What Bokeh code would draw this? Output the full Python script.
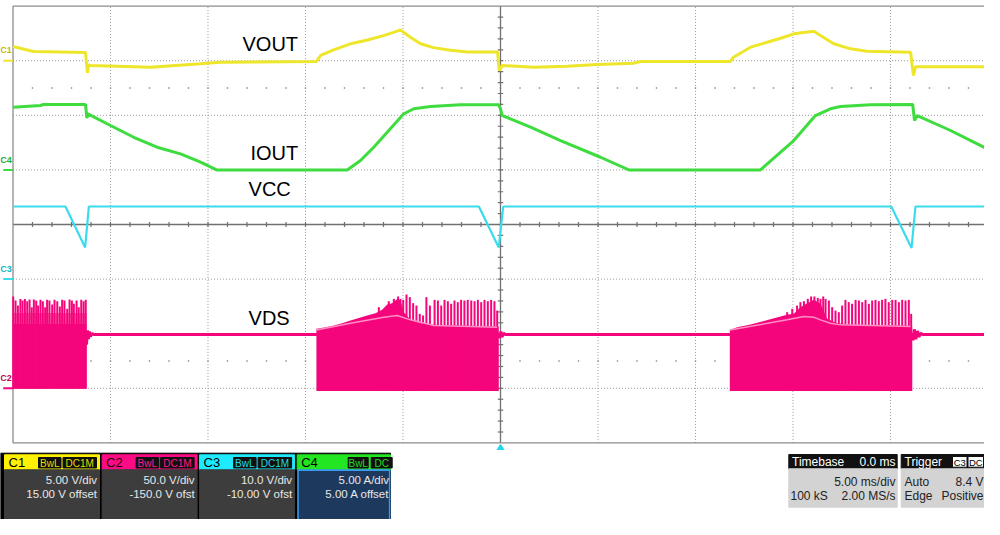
import numpy as np
from bokeh.plotting import figure
from bokeh.layouts import column
from bokeh.models import Range1d
from bokeh.core.properties import value
from bokeh.embed import file_html
from bokeh.resources import INLINE

FONT = value("Liberation Sans")

# ---------------- scope settings ----------------
ch_ids = ["C1", "C2", "C3", "C4"]
ch_names = ["VOUT", "VDS", "VCC", "IOUT"]
ch_scale = [5.0, 50.0, 10.0, 5.0]          # units / div
ch_offset = [15.0, -150.0, -10.0, 5.0]     # offset
ch_line1 = ["5.00 V/div", "50.0 V/div", "10.0 V/div", "5.00 A/div"]
ch_line2 = ["15.00 V offset", "-150.0 V ofst", "-10.00 V ofst", "5.00 A offset"]
ch_badge2 = ["DC1M", "DC1M", "DC1M", "DC"]
timebase_ms_div = 5.0
trigger_level = 8.4   # V on C3
trigger_time = 0.0

# ---------------- VOUT (C1), V ----------------
vout_t = [-25.0, -23.95, -22.56, -21.28, -21.23, -21.18, -21.13, -21.03, -17.95, -15.38,
          -14.36, -9.44, -9.23, -8.56, -7.69, -6.82, -6.0, -5.49, -5.13, -4.97,
          -4.62, -4.10, -3.44, -2.56, -1.69, -0.15, -0.10, -0.05, 0.09, 1.69,
          3.42, 4.96, 6.82, 7.18, 11.79, 11.95, 12.82, 13.68, 14.53, 15.04,
          16.07, 16.41, 17.09, 17.95, 18.80, 21.03, 21.13, 21.18, 21.28, 21.54,
          24.87, 25.0]
vout_v = [1.30, 0.85, 0.80, 0.75, -0.25, -1.10, -0.35, -0.44, -0.60, -0.28,
          -0.14, -0.07, 0.48, 1.00, 1.55, 1.90, 2.30, 2.60, 2.83, 2.60,
          2.15, 1.55, 1.20, 0.95, 0.80, 0.80, -0.25, -0.90, -0.44, -0.60,
          -0.50, -0.35, -0.23, -0.07, -0.07, 0.32, 1.24, 1.69, 2.15, 2.46,
          2.70, 2.31, 1.55, 1.09, 0.87, 0.78, -0.70, -1.35, -0.55, -0.55,
          -0.55, -0.25]

# ---------------- IOUT (C4), A ----------------
iout_t = [-25.0, -23.59, -23.44, -21.28, -21.21, -21.16, -20.0, -18.81, -17.61, -16.41,
          -15.38, -14.56, -7.86, -7.18, -6.50, -5.81, -4.96, -4.45, -3.59, -2.05,
          -0.10, 0.0, 0.09, 1.54, 3.08, 5.13, 6.58, 13.33, 13.68, 15.04,
          16.15, 16.92, 17.44, 18.97, 21.14, 21.23, 21.37, 23.08, 24.96]
iout_a = [5.74, 5.90, 5.99, 5.99, 4.75, 5.14, 4.07, 2.99, 2.08, 1.47,
          0.71, 0.0, 0.0, 0.86, 2.08, 3.45, 5.14, 5.60, 5.81, 5.96,
          5.96, 5.60, 4.98, 3.91, 2.69, 1.16, 0.0, 0.0, 0.56, 2.69,
          4.98, 5.60, 5.81, 5.96, 5.99, 4.52, 4.98, 3.61, 1.93]

# ---------------- VCC (C3), V ----------------
vcc_t = [-25.0, -22.31, -21.30, -21.11, -1.11, -0.09, 0.14, 20.04, 21.08, 21.28, 25.0]
vcc_v = [13.3, 13.3, 5.8, 13.3, 13.3, 5.8, 13.3, 13.3, 5.7, 13.3, 13.3]

# ---------------- VDS (C2), V ----------------
vds_t = [-21.23, -21.18, -21.13, -21.08, -21.03, -20.95, -20.85, -0.09, -0.04, 0.02,
         0.08, 0.15, 0.25, 21.11, 21.16, 21.22, 21.30, 21.38, 21.46, 21.55,
         21.65, 25.23]
vds_v = [40.0, 53.0, 45.0, 52.0, 47.5, 50.0, 49.3, 49.3, 46.0, 52.0,
         47.0, 50.5, 49.3, 49.3, 44.0, 54.0, 45.0, 52.5, 47.0, 50.5,
         49.3, 49.3]

# switching bursts: dense envelope top, floor, spike tops, mean line
b1_top_t = [-25.0, -21.23]
b1_top_v = [59.0, 59.0]
b1_band_v = [69.0, 69.0]
b1_floor = -0.5
b1_spk_t = [-24.99, -24.87, -24.75, -24.62, -24.51, -24.39, -24.27, -24.15, -24.04, -23.93,
            -23.81, -23.71, -23.59, -23.47, -23.35, -23.25, -23.13, -22.99, -22.87, -22.73,
            -22.60, -22.48, -22.36, -22.22, -22.10, -21.98, -21.88, -21.74, -21.63, -21.50,
            -21.38, -21.27]
b1_spk_v = [84.1, 80.4, 75.8, 81.9, 80.4, 81.9, 79.8, 81.3, 74.3, 81.3,
            80.4, 75.8, 81.0, 79.8, 74.3, 81.0, 80.4, 76.7, 81.0, 79.8,
            74.9, 81.0, 80.4, 72.8, 81.3, 80.4, 77.4, 80.4, 74.3, 81.0,
            79.8, 81.0]

b2_top_t = [-9.44, -8.97, -8.55, -8.12, -7.69, -7.27, -6.84, -6.41, -6.07, -5.81,
            -5.56, -5.30, -5.13, -4.96, -4.62, -4.10, -3.42, -0.17, -0.09]
b2_top_v = [54.5, 56.0, 57.5, 59.6, 62.1, 64.5, 66.7, 68.8, 71.9, 76.7,
            78.0, 81.9, 80.4, 69.7, 62.7, 59.6, 58.1, 56.6, 56.6]
b2_floor = -2.5
b2_spk_t = [-6.24, -5.98, -5.73, -5.47, -5.25, -5.13, -4.99, -4.82, -4.65, -4.48,
            -4.31, -4.14, -3.97, -3.80, -3.62, -3.38, -3.21, -3.04, -2.87, -2.70,
            -2.53, -2.36, -2.19, -2.02, -1.85, -1.68, -1.50, -1.33, -1.16, -0.99,
            -0.82, -0.65, -0.48, -0.31, -0.17]
b2_spk_v = [74.3, 72.8, 79.8, 81.9, 84.1, 81.9, 81.0, 85.9, 83.5, 78.0,
            75.8, 68.2, 66.7, 83.5, 75.8, 81.0, 80.4, 75.8, 81.0, 79.8,
            77.4, 80.4, 78.9, 81.0, 80.4, 81.0, 80.4, 79.8, 81.0, 78.9,
            81.0, 79.8, 81.0, 79.8, 71.2]
b2_mean_t = [-9.44, -7.69, -5.98, -5.30, -4.62, -3.42, -0.17]
b2_mean_v = [53.5, 59.6, 65.1, 66.7, 62.7, 57.5, 56.0]

b3_top_t = [11.76, 12.14, 12.82, 13.42, 13.93, 14.36, 14.70, 15.04, 15.38, 15.73,
            16.07, 16.41, 16.75, 17.26, 18.12, 21.03, 21.11]
b3_top_v = [53.5, 56.0, 58.4, 61.2, 63.6, 65.8, 67.3, 68.2, 74.3, 78.0,
            81.0, 77.4, 63.6, 59.6, 58.1, 57.2, 57.2]
b3_floor = -2.5
b3_spk_t = [14.70, 14.96, 15.21, 15.38, 15.56, 15.76, 15.93, 16.10, 16.27, 16.41,
            16.55, 16.67, 16.84, 17.01, 17.18, 17.35, 17.52, 17.69, 17.86, 18.03,
            18.21, 18.38, 18.55, 18.72, 18.89, 19.06, 19.23, 19.40, 19.57, 19.74,
            19.91, 20.09, 20.26, 20.43, 20.60, 20.77, 20.94, 21.06]
b3_spk_v = [69.7, 72.8, 75.8, 78.9, 79.8, 81.9, 84.1, 84.1, 82.8, 81.9,
            84.1, 81.9, 80.4, 74.3, 71.2, 69.7, 75.8, 81.0, 78.9, 77.4,
            81.0, 80.4, 78.9, 81.0, 77.4, 80.4, 81.0, 79.8, 81.0, 81.9,
            78.9, 81.0, 81.0, 78.9, 81.0, 80.4, 81.0, 68.2]
b3_mean_t = [11.76, 14.70, 15.56, 16.07, 16.41, 16.92, 17.44, 21.03]
b3_mean_v = [53.5, 62.7, 65.8, 65.1, 62.7, 59.6, 58.1, 56.6]

# ---------------- styling ----------------
YEL, MAG, CYA, GRN = "#EEE62A", "#F5057C", "#3ADCEC", "#3EDC3E"
MAG_LIGHT = "#FF8FC4"
HDR = ["#FFF200", "#FF0A85", "#1EEBFF", "#22E622"]
BADGE_TXT = ["#E6DC00", "#FF1A8C", "#1EDCEC", "#22DD22"]
MARK_TXT = ["#C8B800", "#C00050", "#10B8C8", "#20B020"]
GRID = "#9A9A9A"


def to_div(vals, ch):
    i = ch_ids.index(ch)
    return (np.asarray(vals, dtype=float) + ch_offset[i]) / ch_scale[i]


W = 984
H_TOP, H_BOT = 444, 75
n_xdiv, n_ydiv = 10, 8
x_half = n_xdiv / 2 * timebase_ms_div
xr = Range1d(-25.641, 24.821)
yr = Range1d(-4.029, 4.103)

p = figure(width=W, height=H_TOP, x_range=xr, y_range=yr,
           x_axis_location=None, y_axis_location=None,
           output_backend="svg", toolbar_location=None, min_border=0)
p.grid.visible = False
p.outline_line_color = None
p.background_fill_color = "white"
p.border_fill_color = "white"

# grid
xmaj = np.arange(-x_half + timebase_ms_div, x_half, timebase_ms_div)
xmaj = xmaj[np.abs(xmaj) > 1e-9]
ymaj = np.arange(-n_ydiv / 2 + 1, n_ydiv / 2)
ymaj = ymaj[np.abs(ymaj) > 1e-9]
p.segment(x0=xmaj, y0=-n_ydiv / 2, x1=xmaj, y1=n_ydiv / 2,
          line_color=GRID, line_width=1, line_dash="1 2")
p.segment(x0=-x_half, y0=ymaj, x1=x_half, y1=ymaj,
          line_color=GRID, line_width=1, line_dash="1 2")
xminor = np.arange(-x_half + 1, x_half, 1.0)
for yy in (2.5, -2.5):
    p.scatter(x=xminor, y=np.full_like(xminor, yy), marker="square",
              size=1.4, color="#8A8A8A", line_color=None)
# centre lines with ticks
p.segment(x0=[-x_half, 0], y0=[0, -n_ydiv / 2], x1=[x_half, 0], y1=[0, n_ydiv / 2],
          line_color="#707070", line_width=1.3)
p.segment(x0=xminor, y0=-0.045, x1=xminor, y1=0.045, line_color="#707070", line_width=1.2)
yminor = np.arange(-n_ydiv / 2 + 0.2, n_ydiv / 2, 0.2)
p.segment(x0=-0.14, y0=yminor, x1=0.14, y1=yminor, line_color="#707070", line_width=1.2)
# border
p.segment(x0=[-x_half, x_half, -x_half, -x_half], y0=[-n_ydiv / 2, -n_ydiv / 2, -n_ydiv / 2, n_ydiv / 2],
          x1=[-x_half, x_half, x_half, x_half], y1=[n_ydiv / 2, n_ydiv / 2, -n_ydiv / 2, n_ydiv / 2],
          line_color="#8C8C8C", line_width=1.3)

# ground markers at left edge
gcols = [YEL, MAG, CYA, GRN]
for i, ch in enumerate(ch_ids):
    g = ch_offset[i] / ch_scale[i]
    p.segment(x0=-25.5, y0=g, x1=-25.0, y1=g, line_color=gcols[i], line_width=2)
    p.text(x=[-25.66], y=[g + 0.19], text=[ch], text_font=FONT, text_font_size="9px",
           text_font_style="bold", text_color=MARK_TXT[i], text_align="left",
           text_baseline="middle")

# ---- VDS ----
p.line(vds_t, to_div(vds_v, "C2"), line_color=MAG, line_width=3)
bursts = [
    (b1_top_t, b1_top_v, b1_floor, b1_spk_t, b1_spk_v, None, None),
    (b2_top_t, b2_top_v, b2_floor, b2_spk_t, b2_spk_v, b2_mean_t, b2_mean_v),
    (b3_top_t, b3_top_v, b3_floor, b3_spk_t, b3_spk_v, b3_mean_t, b3_mean_v),
]
p.varea(x=b1_top_t, y1=to_div(b1_top_v, "C2"), y2=to_div(b1_band_v, "C2"),
        fill_color="#F86FAE")
for tt, tv, fl, st, sv, mt, mv in bursts:
    p.varea(x=tt, y1=to_div(np.full(len(tt), fl), "C2"), y2=to_div(tv, "C2"),
            fill_color=MAG)
    p.segment(x0=st, y0=to_div(np.full(len(st), fl), "C2"), x1=st, y1=to_div(sv, "C2"),
              line_color=MAG, line_width=2.0)
    if mt is not None:
        p.line(mt, to_div(mv, "C2"), line_color=MAG_LIGHT, line_width=1.5)

# ---- VCC ----
p.line(vcc_t, to_div(vcc_v, "C3"), line_color=CYA, line_width=2.2)
# ---- IOUT ----
p.line(iout_t, to_div(iout_a, "C4"), line_color=GRN, line_width=3)
# ---- VOUT ----
p.line(vout_t, to_div(vout_v, "C1"), line_color=YEL, line_width=3)

# trace labels
lab_text = ["VOUT", "IOUT", "VCC", "VDS"]
lab_x = [-13.23, -12.82, -12.92, -12.92]
lab_y = [3.315, 1.31, 0.65, -1.712]
p.text(x=lab_x, y=lab_y, text=lab_text, text_font=FONT, text_font_size="20px",
       text_color="black", text_align="left", text_baseline="middle")

# ---------------- info panels ----------------
f2 = figure(width=W, height=H_BOT, x_range=Range1d(0, W), y_range=Range1d(H_BOT, 0),
            x_axis_location=None, y_axis_location=None,
            output_backend="svg", toolbar_location=None, min_border=0)
f2.grid.visible = False
f2.outline_line_color = None
f2.background_fill_color = "white"
f2.border_fill_color = "white"

# trigger-position marker under the grid
trig_fx = (trigger_time - xr.start) / (xr.end - xr.start) * W
f2.scatter(x=[trig_fx], y=[3.2], marker="triangle", size=8, color="#22D8F0", line_color=None)

f2.quad(left=0, right=390, top=8.7, bottom=91, color="black")
box_l = [4.0, 101.6, 199.1, 296.7]
box_w = [95.0, 95.0, 95.0, 93.3]
for i in range(4):
    L = box_l[i]
    R = L + box_w[i]
    f2.quad(left=L, right=R, top=10.3, bottom=25.3, color=HDR[i])
    if i == 3:
        f2.quad(left=L + 0.8, right=R - 0.8, top=25.6, bottom=90, fill_color="#1D3A5E",
                line_color="#3A9AF0", line_width=1.6)
    else:
        f2.quad(left=L, right=R, top=25.3, bottom=90, color="#3D3D3D")
    f2.text(x=[L + 4], y=[18.3], text=[ch_ids[i]], text_font=FONT, text_font_size="13px",
            text_color="#1A0008" if i == 1 else "black", text_align="left", text_baseline="middle")
    if i == 3:
        bx = [(L + 51, L + 71, "BwL"), (L + 74, L + 95, ch_badge2[i])]
    else:
        bx = [(L + 34, L + 56.5, "BwL"), (L + 58.5, L + 92, ch_badge2[i])]
    for (a, b, s) in bx:
        f2.quad(left=a, right=b, top=13, bottom=23.5, fill_color="#101010",
                line_color="#101010")
        f2.text(x=[(a + b) / 2], y=[18.5], text=[s], text_font=FONT, text_font_size="10px",
                text_color=BADGE_TXT[i], text_align="center", text_baseline="middle")
    f2.text(x=[L + 92.5, L + 92.5], y=[35.5, 49], text=[ch_line1[i], ch_line2[i]],
            text_font=FONT, text_font_size="11.5px", text_color="#E8E8E8",
            text_align="right", text_baseline="middle")

# timebase + trigger panels
f2.quad(left=[788.3, 900.7], right=[896.7, 984], top=[10, 10], bottom=[24.3, 24.3], color="#111111")
f2.quad(left=[788.3, 900.7], right=[896.7, 984], top=[24.3, 24.3], bottom=[62.7, 62.7], color="#D3D3D3")
f2.text(x=[791.5, 904], y=[17.3, 17.3], text=["Timebase", "Trigger"], text_font=FONT,
        text_font_size="12px", text_color="white", text_align="left", text_baseline="middle")
f2.text(x=[895], y=[17.3], text=["0.0 ms"], text_font=FONT,
        text_font_size="12px", text_color="white", text_align="right", text_baseline="middle")
f2.quad(left=[952, 967.5], right=[966.5, 983], top=[12, 12], bottom=[22.7, 22.7],
        fill_color="white", line_color="#111111")
f2.text(x=[959.3, 975.3], y=[17.5, 17.5], text=["C3", "DC"], text_font=FONT,
        text_font_size="9.5px", text_color="black", text_align="center", text_baseline="middle")
f2.text(x=[895, 895, 983, 983], y=[37, 51, 37, 51],
        text=["5.00 ms/div", "2.00 MS/s", "8.4 V", "Positive"], text_font=FONT,
        text_font_size="12px", text_color="#222222", text_align="right", text_baseline="middle")
f2.text(x=[790, 904, 904], y=[51, 37, 51], text=["100 kS", "Auto", "Edge"], text_font=FONT,
        text_font_size="12px", text_color="#222222", text_align="left", text_baseline="middle")

layout = column(p, f2, spacing=0)
open("out.html", "w").write(file_html(layout, INLINE))
